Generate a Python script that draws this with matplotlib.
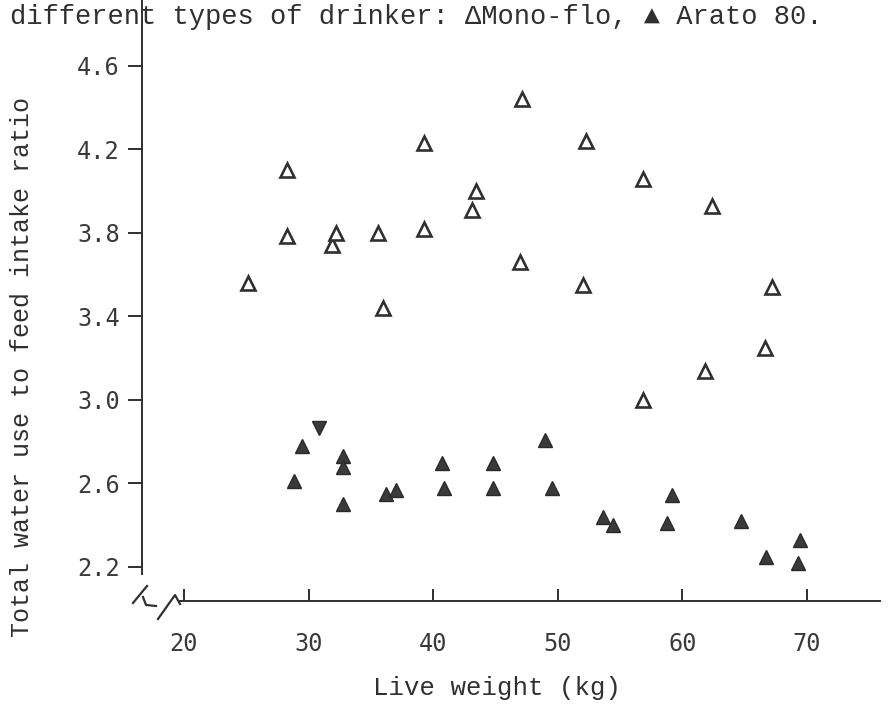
import matplotlib
matplotlib.use("Agg")
import matplotlib.pyplot as plt
from matplotlib.lines import Line2D

# live weight (kg) and water:feed ratio, Mono-flo drinkers (open triangles)
mono_x = [25.1, 28.3, 28.3, 31.9, 32.2, 35.6, 36.0, 39.3, 39.3, 43.1, 43.4,
          47.0, 47.1, 52.0, 52.3, 56.8, 56.8, 61.8, 62.4, 66.6, 67.2]
mono_y = [3.56, 4.10, 3.785, 3.74, 3.80, 3.80, 3.44, 4.23, 3.82, 3.91, 4.00,
          3.66, 4.44, 3.55, 4.24, 4.06, 3.00, 3.14, 3.93, 3.25, 3.54]

# Arato 80 drinkers (filled triangles)
arato_x = [28.8, 29.5, 32.8, 32.8, 32.8, 36.2, 37.0, 40.7, 40.9, 44.8, 44.8,
           49.0, 49.5, 53.6, 54.4, 58.8, 59.2, 64.7, 66.7, 69.3, 69.4]
arato_y = [2.61, 2.78, 2.73, 2.68, 2.50, 2.55, 2.57, 2.70, 2.58, 2.70, 2.58,
           2.81, 2.58, 2.44, 2.40, 2.41, 2.545, 2.42, 2.25, 2.22, 2.33]

# one Arato point printed upside down
odd_x = [30.8]
odd_y = [2.866]

x_ticks = [20, 30, 40, 50, 60, 70]
y_ticks = [2.2, 2.6, 3.0, 3.4, 3.8, 4.2, 4.6]

ink = "#303030"
text_font = ["Liberation Mono", "DejaVu Sans Mono"]
num_font = ["DejaVu Sans Mono"]

W, H = 894, 705
fig = plt.figure(figsize=(W / 100, H / 100), dpi=100)
ax = fig.add_axes([142 / W, 1 - 601 / H, (880 - 142) / W, 601 / H])

ax.plot(mono_x, mono_y, linestyle="none", marker="^", ms=10.5,
        mfc="white", mec=ink, mew=1.9)
ax.plot(arato_x, arato_y, linestyle="none", marker="^", ms=10.5,
        mfc="#3a3a3a", mec="#2a2a2a", mew=1.0)
ax.plot(odd_x, odd_y, linestyle="none", marker="v", ms=10.5,
        mfc="#3a3a3a", mec="#2a2a2a", mew=1.0)

ax.set_xlim(16.63, 75.86)
ax.set_ylim(2.037, 4.916)

for side in ("top", "right"):
    ax.spines[side].set_visible(False)
ax.spines["left"].set_bounds(2.165, 4.916)
ax.spines["bottom"].set_bounds(19.7, 75.86)
for side in ("left", "bottom"):
    ax.spines[side].set_color(ink)
    ax.spines[side].set_linewidth(1.4)

ax.set_xticks(x_ticks)
ax.set_xticklabels([str(t) for t in x_ticks], family=num_font, fontsize=17, color="#3a3a3a")
ax.set_yticks(y_ticks)
ax.set_yticklabels([f"{t:.1f}" for t in y_ticks], family=num_font, fontsize=17, color="#3a3a3a")
ax.tick_params(axis="x", direction="in", length=9, width=1.4, color=ink, pad=22)
ax.tick_params(axis="y", direction="out", length=10, width=1.4, color=ink, pad=6)

# axis break sign in the corner
def px(x, y):
    return x / W, 1 - y / H

for seg in ([(133, 603), (147, 586)],
            [(143, 597), (146, 605), (156, 606)],
            [(158, 619), (175, 595), (180, 604)]):
    xs, ys = zip(*[px(*p) for p in seg])
    fig.add_artist(Line2D(xs, ys, color=ink, lw=1.6, transform=fig.transFigure))

fig.text(10 / W, 1 - 17 / H,
         "different types of drinker: \u0394Mono-flo, \u25b2 Arato 80.",
         family=text_font, fontsize=19.5, color=ink, ha="left", va="center")
fig.text(22 / W, 1 - 367 / H, "Total water use to feed intake ratio",
         family=text_font, fontsize=18, color=ink, rotation=90,
         ha="center", va="center")
fig.text(497 / W, 1 - 688 / H, "Live weight (kg)",
         family=text_font, fontsize=18.5, color=ink, ha="center", va="center")

fig.savefig("out.png", dpi=100)
